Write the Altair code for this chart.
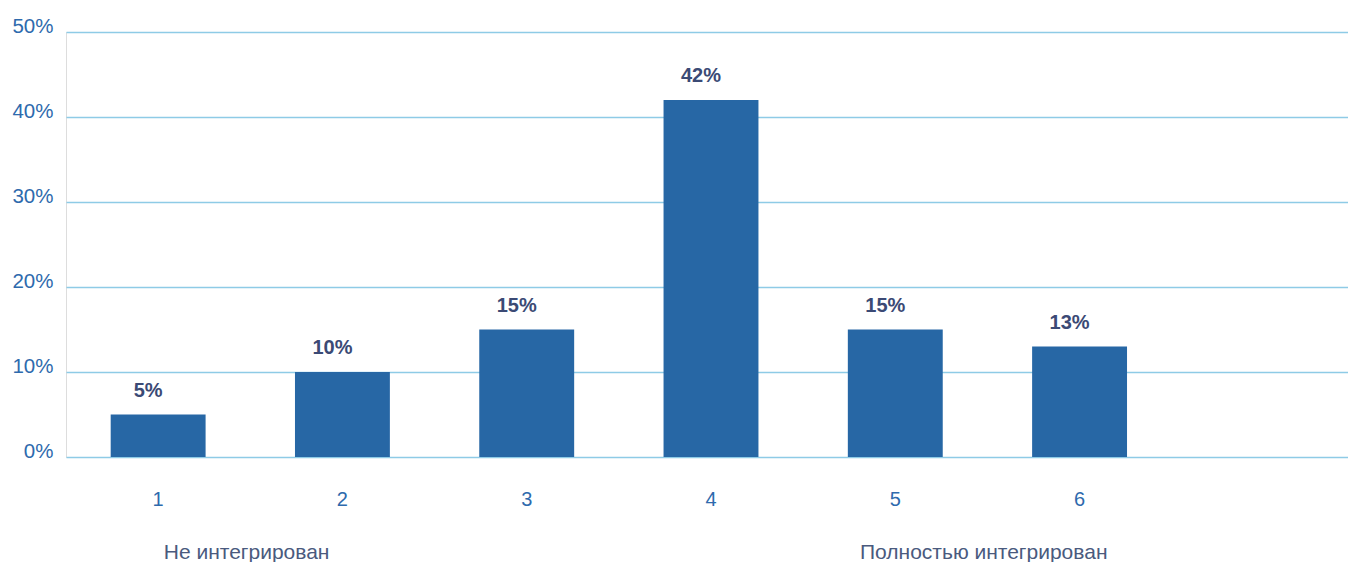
import altair as alt
import pandas as pd

categories = ["1", "2", "3", "4", "5", "6", "7"]
values = [5, 10, 15, 42, 15, 13, None]
labels = ["5%", "10%", "15%", "42%", "15%", "13%", ""]
tick_labels = ["1", "2", "3", "4", "5", "6", ""]
end_notes = ["Не интегрирован", "Полностью интегрирован"]
end_note_cats = ["1", "5"]

df = pd.DataFrame({"cat": categories, "value": values, "label": labels})
df = df[df["value"].notna()]
notes = pd.DataFrame({"cat": end_note_cats, "note": end_notes})

FONT = "Liberation Sans"
BLUE = "#2e6aad"
GRID = "#8ecbe6"

xscale = alt.Scale(domain=categories, range=[0, 1290], paddingInner=0.485, paddingOuter=0.2425)
yscale = alt.Scale(domain=[0, 50])

xaxis = alt.Axis(
    title=None, labelExpr="datum.value == '7' ? '' : datum.value", labelAngle=0,
    labelFont=FONT, labelFontSize=20, labelColor=BLUE, labelPadding=32,
    labelBaseline="top", ticks=False, domain=False, grid=False,
)
yaxis = alt.Axis(
    title=None, values=[0, 10, 20, 30, 40, 50], labelExpr="datum.value + '%'",
    labelFont=FONT, labelFontSize=20.5, labelColor=BLUE, labelPadding=13,
    labelBaseline="alphabetic", ticks=False, domain=False,
    grid=True, gridColor=GRID, gridWidth=1.3,
)

base = alt.Chart(df)

bars = base.mark_bar(color="#2767a5").encode(
    x=alt.X("cat:N", scale=xscale, axis=xaxis, sort=categories),
    y=alt.Y("value:Q", scale=yscale, axis=yaxis),
)

text = base.mark_text(
    font=FONT, fontSize=20, fontWeight="bold", color="#3b4a75",
    baseline="alphabetic", dy=-18, dx=-10,
).encode(
    x=alt.X("cat:N", scale=xscale, sort=categories),
    y=alt.Y("value:Q", scale=yscale),
    text="label:N",
)

note_text = alt.Chart(notes).mark_text(
    font=FONT, fontSize=21, color="#4a5a7e", baseline="alphabetic", dx=41,
).encode(
    x=alt.X("cat:N", scale=xscale, sort=categories, bandPosition=1),
    y=alt.value(527),
    text="note:N",
)

chart = alt.layer(bars, text, note_text).properties(
    width=1282, height=425,
    autosize=alt.AutoSizeParams(type="none"),
    padding={"left": 66, "top": 32, "right": 0, "bottom": 105},
).configure_view(stroke=None).configure(background="white")

chart.save("out.html", embed_options={"renderer": "svg", "actions": False})
